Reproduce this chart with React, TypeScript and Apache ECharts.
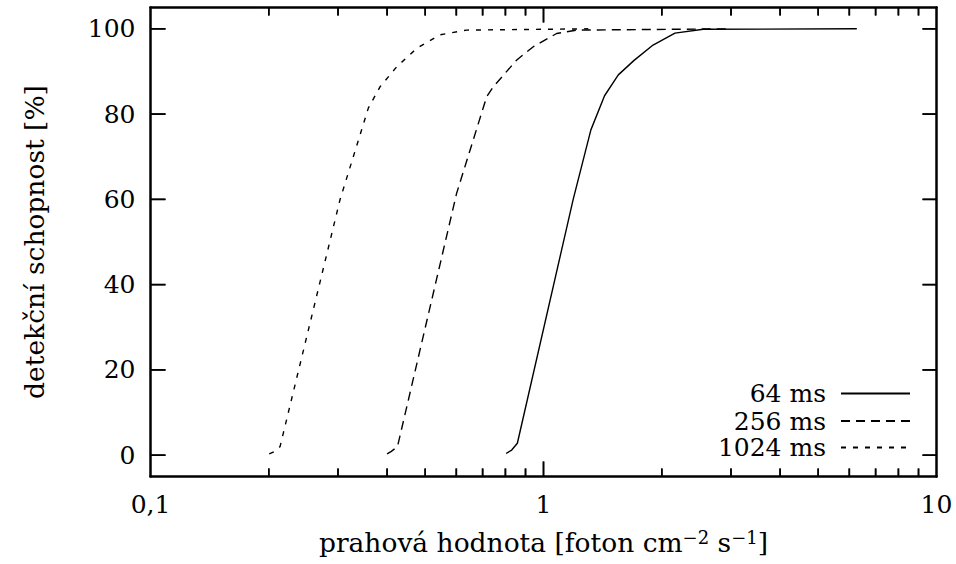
import React, { useEffect, useRef } from 'react';
import * as echarts from 'echarts';

// ---- data ----
const seriesNames = ['64 ms', '256 ms', '1024 ms'];

const ms64X = [0.803, 0.83, 0.858, 1.19, 1.32, 1.43, 1.55, 1.70, 1.90, 2.16, 2.55, 6.27];
const ms64Y = [0.4, 1.2, 2.8, 60, 76.3, 84.3, 89.2, 92.6, 96.2, 99.0, 99.9, 100];

const ms256X = [0.40, 0.41, 0.425, 0.601, 0.717, 0.745, 0.855, 0.942, 1.08, 1.215, 3.0];
const ms256Y = [0.3, 0.9, 2.0, 61.4, 84.1, 86.4, 92.7, 95.8, 98.9, 99.7, 100];

const ms1024X = [0.2005, 0.206, 0.2136, 0.3035, 0.3583, 0.3837, 0.4232, 0.4757, 0.5453, 0.6375, 1.3];
const ms1024Y = [0.3, 0.8, 2.0, 59.9, 81.4, 86.4, 91.1, 95.4, 98.6, 99.7, 100];

const X_MIN = 0.1;
const X_MAX = 10;
const Y_MIN = -5;
const Y_MAX = 105;

const yTickValues = [0, 20, 40, 60, 80, 100];
const xMajorTickValues = [1];
const xMinorTickValues = [0.2, 0.3, 0.4, 0.5, 0.6, 0.7, 0.8, 0.9, 2, 3, 4, 5, 6, 7, 8, 9];

const xAxisTitle = 'prahová hodnota [foton cm{sup|−2} s{sup|−1}]';
const yAxisTitle = 'detekční schopnost [%]';

const FONT = '"DejaVu Serif", "Liberation Serif", serif';
const FS = 25;
const NAME_FS = 26.5;

// grid geometry (pixels)
const GRID = { left: 150.5, right: 19.5, top: 7.5, bottom: 87.5 };
const W = 956;
const H = 564;

export default function App() {
  const ref = useRef<HTMLDivElement>(null);

  useEffect(() => {
    const chart = echarts.init(ref.current as HTMLDivElement, null, { renderer: 'svg' });
    const zip = (xs: number[], ys: number[]) => xs.map((x, i) => [x, ys[i]]);

    const frameLine = { show: true, onZero: false, lineStyle: { color: '#000', width: 2.5 } };

    const dashes: any[] = ['solid', [9, 6], [5, 7]];
    const datasets = [zip(ms64X, ms64Y), zip(ms256X, ms256Y), zip(ms1024X, ms1024Y)];

    // tick segments in data units (mirrored on all four sides, pointing inward)
    const plotH = H - GRID.top - GRID.bottom;
    const plotW = W - GRID.left - GRID.right;
    const yUnitsPerPx = (Y_MAX - Y_MIN) / plotH;
    const decadesPerPx = Math.log10(X_MAX / X_MIN) / plotW;
    const tickSegments: number[][][] = [];
    xMajorTickValues.forEach((v) => {
      tickSegments.push([[v, Y_MIN], [v, Y_MIN + 15 * yUnitsPerPx]]);
      tickSegments.push([[v, Y_MAX], [v, Y_MAX - 15 * yUnitsPerPx]]);
    });
    xMinorTickValues.forEach((v) => {
      tickSegments.push([[v, Y_MIN], [v, Y_MIN + 8 * yUnitsPerPx]]);
      tickSegments.push([[v, Y_MAX], [v, Y_MAX - 8 * yUnitsPerPx]]);
    });
    yTickValues.forEach((v) => {
      tickSegments.push([[X_MIN, v], [X_MIN * Math.pow(10, 15 * decadesPerPx), v]]);
      tickSegments.push([[X_MAX, v], [X_MAX / Math.pow(10, 14 * decadesPerPx), v]]);
    });

    // tick series carry a legend name so that no legend filters them out
    const tickSeries = tickSegments.map((seg) => ({
      type: 'line',
      name: seriesNames[0],
      legendHoverLink: false,
      xAxisIndex: 0,
      yAxisIndex: 0,
      data: seg,
      symbol: 'none',
      silent: true,
      clip: false,
      z: 4,
      lineStyle: { color: '#000', width: 1.6, type: 'solid' },
      itemStyle: { color: '#000' },
    }));

    chart.setOption({
      animation: false,
      backgroundColor: '#fff',
      grid: { ...GRID, show: false },
      xAxis: [
        {
          type: 'log',
          logBase: 10,
          min: X_MIN,
          max: X_MAX,
          position: 'bottom',
          axisLine: frameLine,
          axisTick: { show: false },
          minorTick: { show: false },
          splitLine: { show: false },
          axisLabel: {
            margin: 15,
            fontFamily: FONT,
            fontSize: FS,
            color: '#000',
            formatter: (v: number) => String(Math.round(v * 10) / 10).replace('.', ','),
          },
          name: xAxisTitle,
          nameLocation: 'middle',
          nameGap: 52,
          nameTextStyle: {
            fontFamily: FONT,
            fontSize: NAME_FS,
            color: '#000',
            rich: {
              sup: { fontFamily: FONT, fontSize: 18, color: '#000', verticalAlign: 'top', lineHeight: 14 },
            },
          },
        },
        {
          type: 'log',
          logBase: 10,
          min: X_MIN,
          max: X_MAX,
          position: 'top',
          axisLine: frameLine,
          axisTick: { show: false },
          minorTick: { show: false },
          axisLabel: { show: false },
          splitLine: { show: false },
        },
      ],
      yAxis: [
        {
          type: 'value',
          min: Y_MIN,
          max: Y_MAX,
          position: 'left',
          axisLine: frameLine,
          axisTick: { show: false },
          axisLabel: { customValues: yTickValues, margin: 15, fontFamily: FONT, fontSize: FS, color: '#000' },
          splitLine: { show: false },
          name: yAxisTitle,
          nameLocation: 'middle',
          nameRotate: 90,
          nameGap: 103,
          nameTextStyle: { fontFamily: FONT, fontSize: NAME_FS, color: '#000' },
        },
        {
          type: 'value',
          min: Y_MIN,
          max: Y_MAX,
          position: 'right',
          axisLine: frameLine,
          axisTick: { show: false },
          axisLabel: { show: false },
          splitLine: { show: false },
        },
      ],
      legend: seriesNames.map((n, i) => ({
        data: [n],
        right: 45,
        top: [381, 408.5, 435][i],
        orient: 'horizontal',
        align: 'right',
        itemWidth: 69,
        itemHeight: 1,
        padding: 0,
        selectedMode: false,
        textStyle: { fontFamily: FONT, fontSize: FS, color: '#000', padding: [0, 10, 0, 0] },
      })),
      series: [
        ...seriesNames.map((n, i) => ({
          type: 'line',
          name: n,
          xAxisIndex: 0,
          yAxisIndex: 0,
          data: datasets[i],
          symbol: 'none',
          smooth: false,
          lineStyle: { color: '#000', width: 1.4, type: dashes[i] },
          itemStyle: { color: '#000' },
        })),
        ...tickSeries,
      ],
    });

    // Backup: the same tick marks as graphic lines, placed through the chart's own scales.
    const px = (x: number, y: number) => chart.convertToPixel({ gridIndex: 0 }, [x, y]) as number[];
    const graphicTicks: any[] = [];
    tickSegments.forEach((seg) => {
      const a = px(seg[0][0], seg[0][1]);
      const b = px(seg[1][0], seg[1][1]);
      if (a && b && isFinite(a[0]) && isFinite(a[1]) && isFinite(b[0]) && isFinite(b[1])) {
        graphicTicks.push({
          type: 'line',
          silent: true,
          shape: { x1: a[0], y1: a[1], x2: b[0], y2: b[1] },
          style: { stroke: '#000', lineWidth: 1.6 },
        });
      }
    });
    if (graphicTicks.length) chart.setOption({ graphic: { elements: graphicTicks } });

    return () => chart.dispose();
  }, []);

  return (
    <div
      ref={ref}
      style={{ position: 'fixed', left: 0, top: 0, width: W, height: H, background: '#fff' }}
    />
  );
}
